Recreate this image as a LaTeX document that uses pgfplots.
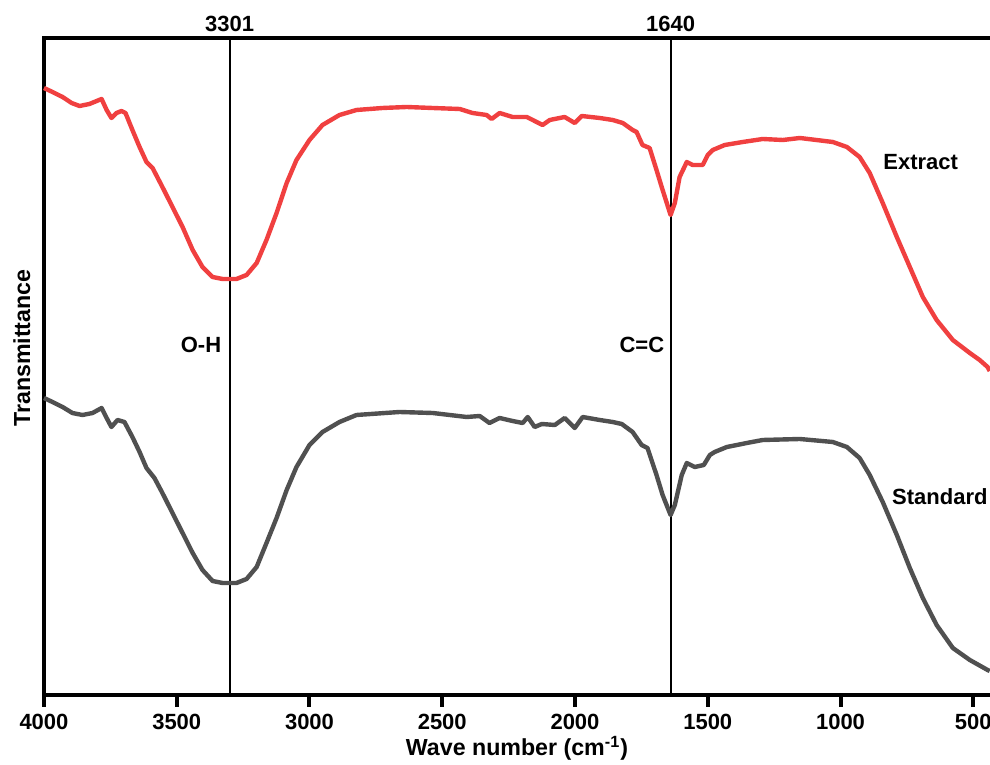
\documentclass[border=0pt]{standalone}
\usepackage{pgfplots}
\pgfplotsset{compat=1.18}
\usepackage{fontspec}
\setmainfont{Liberation Sans}
\definecolor{extred}{RGB}{240,64,64}
\definecolor{stdgray}{RGB}{80,80,80}
\newcommand{\lblfont}{\bfseries\fontsize{11}{13}\selectfont}
\newcommand{\axfont}{\bfseries\fontsize{11.6}{14}\selectfont}
\begin{document}
\begin{tikzpicture}[font=\lblfont]
\begin{axis}[
 at={(0,0)}, anchor=south west,
 scale only axis, width=473pt, height=328.5pt,
 x dir=reverse, xmin=437, xmax=4000, ymin=0, ymax=657,
 clip=false,
 axis line style={draw=none},
 xtick={4000,3500,3000,2500,2000,1500,1000,500},
 xtick pos=bottom, xtick align=outside,
 ytick=\empty,
 major tick length=6pt,
 every tick/.style={black, line width=2pt},
 /pgf/number format/assume math mode=true,
 /pgf/number format/set thousands separator={},
 xticklabel style={font=\lblfont},
 xlabel={Wave number (cm\textsuperscript{-1})},
 ylabel={Transmittance},
 every axis x label/.style={at={([yshift=-30.5pt]rel axis cs:0.5,0)}, anchor=base, font=\axfont},
 every axis y label/.style={at={([xshift=-3.3pt]rel axis cs:0,0.528)}, rotate=90, anchor=south, font=\axfont},
]
\draw[line width=2pt, line join=miter] (rel axis cs:1,1) -- (rel axis cs:0,1) -- (rel axis cs:0,0) -- (rel axis cs:1,0);
\addplot[black, line width=1pt] coordinates {(3301,0) (3301,657)};
\addplot[black, line width=1pt] coordinates {(1640,0) (1640,657)};
\addplot[extred, line width=2.2pt, line join=round] coordinates {
(4000,607) (3968,603) (3930,598) (3896,592) (3866,589) (3829,591) (3783,596)
(3764,585) (3746,577) (3727,582) (3708,584) (3693,582) (3667,565) (3640,548)
(3614,533) (3591,527) (3554,508) (3516,488) (3478,468) (3440,445) (3403,428)
(3365,418) (3327,416) (3275,416) (3237,420) (3199,432) (3162,455) (3124,482)
(3086,512) (3049,535) (3000,555) (2951,570) (2887,580) (2823,585)
(2725,587) (2634,588) (2536,587) (2434,586) (2386,582) (2333,580) (2314,576)
(2284,582) (2235,578) (2182,578) (2122,570) (2095,575) (2039,578) (2001,572)
(1975,579) (1907,577) (1858,575) (1820,572) (1783,565) (1768,563) (1746,550)
(1719,547) (1693,525) (1670,505) (1640,480) (1624,492) (1606,518) (1579,533)
(1557,530) (1519,530) (1500,540) (1481,545) (1436,550) (1368,553) (1293,556)
(1217,555) (1153,557) (1029,553) (976,548) (928,538) (890,522) (841,492)
(788,458) (739,428) (690,398) (638,375) (577,355) (513,342) (476,335)
(446,328) (438,324)
};
\addplot[stdgray, line width=2.2pt, line join=round] coordinates {
(4000,297) (3968,293) (3930,288) (3893,282) (3855,280) (3817,282) (3783,287)
(3764,277) (3746,268) (3723,275) (3697,273) (3667,258) (3640,243) (3614,227)
(3584,217) (3554,202) (3516,182) (3478,162) (3440,142) (3403,125) (3365,114)
(3327,112) (3275,112) (3237,116) (3199,128) (3162,152) (3124,177) (3086,205)
(3049,228) (3000,250) (2951,263) (2887,273) (2823,280)
(2661,283) (2536,282) (2408,278) (2359,279) (2322,272) (2284,277) (2235,274)
(2197,272) (2178,278) (2152,268) (2125,271) (2076,270) (2039,277) (2001,267)
(1971,278) (1907,275) (1858,273) (1824,271) (1783,263) (1749,250) (1727,247)
(1693,220) (1670,200) (1640,180) (1624,190) (1598,220) (1579,232) (1549,228)
(1515,230) (1492,240) (1474,243) (1428,248) (1353,252) (1293,255) (1153,256)
(1029,253) (976,248) (928,237) (890,220) (841,193) (788,160) (739,127)
(690,97) (638,70) (577,47) (513,35) (446,25) (438,24)
};
\node[anchor=south, inner sep=0pt] at (axis cs:3301,657) [yshift=3pt] {3301};
\node[anchor=south, inner sep=0pt] at (axis cs:1640,657) [yshift=3pt] {1640};
\node[anchor=east, inner sep=0pt] at (axis cs:3301,350) [xshift=-4pt] {O-H};
\node[anchor=east, inner sep=0pt] at (axis cs:1640,350) [xshift=-3pt] {C=C};
\node[anchor=west, inner sep=0pt] at (axis cs:840,533) {Extract};
\node[anchor=west, inner sep=0pt] at (axis cs:807,198) {Standard};
\end{axis}
\pgfresetboundingbox
\path (-22pt,-35pt) rectangle (473pt,347.5pt);
\end{tikzpicture}
\end{document}
